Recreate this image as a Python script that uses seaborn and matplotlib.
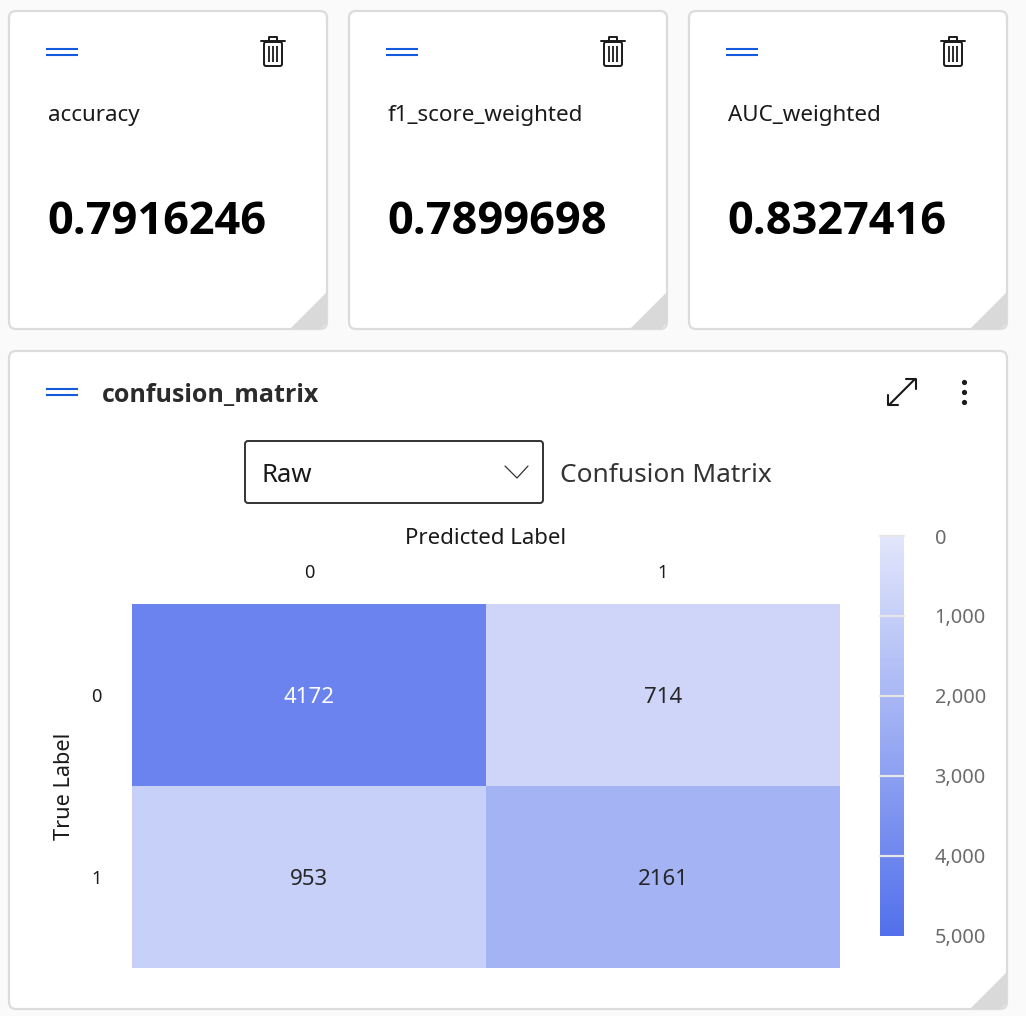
import numpy as np
import matplotlib
matplotlib.use("Agg")
import matplotlib.pyplot as plt
import seaborn as sns
from matplotlib.colors import LinearSegmentedColormap
from matplotlib.patches import FancyBboxPatch, Polygon
from matplotlib.ticker import StrMethodFormatter

metric_names = ["accuracy", "f1_score_weighted", "AUC_weighted"]
metric_values = ["0.7916246", "0.7899698", "0.8327416"]

class_labels = ["0", "1"]
confusion_counts = [[4172, 714], [953, 2161]]
colorbar_ticks = [0, 1000, 2000, 3000, 4000, 5000]

W, H = 1026, 1016
BLUE = "#1259dc"
BORDER = "#dcdcdc"
INK = "#1a1a1a"
BOLD_FONT = ["Open Sans", "DejaVu Sans"]

sns.set_theme(style="white")
plt.rcParams["font.family"] = ["Noto Sans", "DejaVu Sans"]

fig = plt.figure(figsize=(W / 100, H / 100), dpi=100, facecolor="#fafafa")


def px_axes(x0, y0, x1, y1):
    """Axes placed with screenshot pixel coordinates."""
    return fig.add_axes([x0 / W, 1 - y1 / H, (x1 - x0) / W, (y1 - y0) / H])


ui = px_axes(0, 0, W, H)
ui.set_xlim(0, W)
ui.set_ylim(H, 0)
ui.axis("off")


def draw_card(x0, y0, x1, y1):
    ui.add_patch(FancyBboxPatch((x0 + 6, y0 + 6), x1 - x0 - 12, y1 - y0 - 12,
                                boxstyle="round,pad=6,rounding_size=7", fc="white", ec=BORDER, lw=1.6))
    ui.add_patch(Polygon([(x1 - 37, y1), (x1, y1 - 37), (x1, y1 - 6), (x1 - 6, y1)], fc="#d9d9d9", ec="none"))


def draw_handle(x, y):
    ui.plot([x, x + 32], [y, y], color=BLUE, lw=1.5, solid_capstyle="butt")
    ui.plot([x, x + 32], [y + 6, y + 6], color=BLUE, lw=1.5, solid_capstyle="butt")


def draw_trash(x, y):
    ui.plot([x, x + 24], [y + 3.5, y + 3.5], color=INK, lw=1.4)
    ui.plot([x + 8, x + 8, x + 16, x + 16], [y + 3, y, y, y + 3], color=INK, lw=1.4)
    ui.add_patch(FancyBboxPatch((x + 3, y + 5), 18, 24, boxstyle="round,pad=0,rounding_size=2",
                                fc="none", ec=INK, lw=1.4))
    for dx in (8, 12, 16):
        ui.plot([x + dx, x + dx], [y + 9, y + 25], color=INK, lw=1.3, solid_capstyle="butt")


for i, (name, value) in enumerate(zip(metric_names, metric_values)):
    left = 9 + 340 * i
    draw_card(left, 11, left + 318, 329)
    draw_handle(left + 37, 49)
    draw_trash(left + 252, 37)
    ui.text(left + 39, 116, name, fontsize=16.1, color=INK, va="center")
    ui.text(left + 38, 223, value, fontsize=32.5, fontweight="bold", family=BOLD_FONT, color="black", va="center")

draw_card(9, 351, 1007, 1009)
draw_handle(46, 389)
ui.text(102, 395, "confusion_matrix", fontsize=18, fontweight="bold", family=BOLD_FONT, color="#2b2b2b", va="center")

# expand arrow and more menu
ui.plot([889, 915], [405, 379], color=INK, lw=1.5)
ui.plot([906, 916, 916], [379, 379, 389], color=INK, lw=1.5)
ui.plot([888, 888, 898], [395, 405, 405], color=INK, lw=1.5)
ui.scatter([964, 964, 964], [382, 392, 402], s=14, color=INK, lw=0)

# dropdown
ui.add_patch(FancyBboxPatch((245, 441), 298, 62, boxstyle="round,pad=0,rounding_size=3",
                            fc="white", ec="#333333", lw=1.4))
ui.text(262, 475, "Raw", fontsize=18.5, color=INK, va="center")
ui.plot([505, 517, 528], [466, 478, 466], color="#333333", lw=0.9)
ui.text(560, 475, "Confusion Matrix", fontsize=18.9, color="#333333", va="center")

# heatmap + colorbar
cmap = LinearSegmentedColormap.from_list("cm_blue", ["#e2e6fb", "#5270eb"])
ax = px_axes(132, 604, 840, 968)
cax = px_axes(880, 536, 904, 936)
sns.heatmap(np.array(confusion_counts), ax=ax, cbar_ax=cax, cmap=cmap, vmin=0, vmax=5000,
            annot=True, fmt="d", annot_kws={"fontsize": 16, "va": "center_baseline"}, linewidths=0,
            xticklabels=class_labels, yticklabels=class_labels,
            cbar_kws={"ticks": colorbar_ticks, "format": StrMethodFormatter("{x:,.0f}")})
ax.xaxis.tick_top()
ax.tick_params(axis="both", length=0, labelsize=13, labelcolor=INK, rotation=0)
ax.tick_params(axis="x", pad=16)
ax.tick_params(axis="y", pad=22)
for label in ax.get_yticklabels():
    label.set_va("center_baseline")

ui.text(486, 538, "Predicted Label", fontsize=16, color=INK, ha="center", va="center")
ui.text(65, 786, "True Label", fontsize=15.6, color=INK, ha="center", va="center", rotation=90)

cax.invert_yaxis()
for spine in cax.spines.values():
    spine.set_visible(False)
cax.tick_params(axis="y", length=0, pad=22, labelsize=14.4, labelcolor="#6b6b6b")
for tick in colorbar_ticks[:-1]:
    cax.axhline(tick, color="#e6e6e6", lw=1.6, clip_on=False)
for label in cax.get_yticklabels():
    label.set_ha("left")

fig.savefig("out.png", dpi=100, facecolor=fig.get_facecolor())
